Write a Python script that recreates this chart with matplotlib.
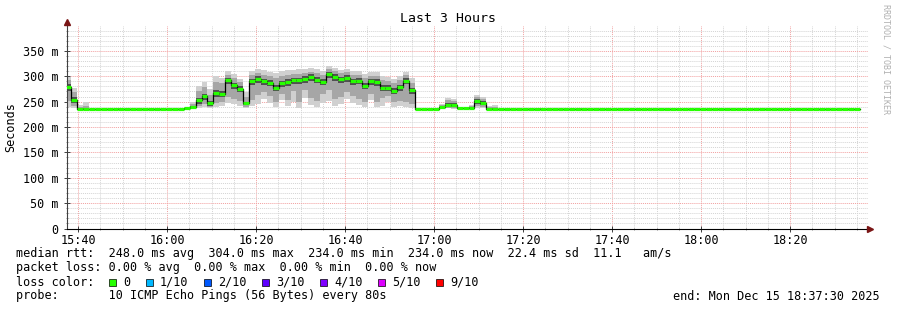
import matplotlib
matplotlib.use("Agg")
import matplotlib.pyplot as plt
import matplotlib.dates as mdates
from matplotlib.patches import Rectangle
from matplotlib.ticker import MultipleLocator, FixedLocator, FixedFormatter
import numpy as np
import pandas as pd

# probe steps of 80 s, median rtt in ms
start = pd.Timestamp("2025-12-15 15:37:04")
step_s = 80
median_ms = [
    279, 254, 236, 236, 236, 236, 236, 236, 236, 236,
    236, 236, 236, 236, 236, 236, 236, 236, 236, 236,
    237, 240, 253, 261, 247, 267, 266, 292, 282, 275,
    247, 290, 295, 290, 287, 277, 286, 289, 292, 292,
    295, 299, 293, 289, 304, 299, 294, 297, 290, 291,
    281, 290, 289, 277, 277, 271, 278, 291, 272, 236,
    236, 236, 236, 239, 244, 244, 237, 237, 238, 251,
    248, 236, 236, 236, 236, 236, 236, 236, 236, 236,
    236, 236, 236, 236, 236, 236, 236, 236, 236, 236,
    236, 236, 236, 236, 236, 236, 236, 236, 236, 236,
    236, 236, 236, 236, 236, 236, 236, 236, 236, 236,
    236, 236, 236, 236, 236, 236, 236, 236, 236, 236,
    236, 236, 236, 236, 236, 236, 236, 236, 236, 236,
    236, 236, 236, 236,
]

# smoke: ping spread per step (outer, middle, inner bands)
smoke_idx = [0, 1, 2, 3, 9, 20, 21, 22, 23, 24, 25, 26, 27, 28, 29, 30,
             31, 32, 33, 34, 35, 36, 37, 38, 39, 40, 41, 42, 43, 44, 45,
             46, 47, 48, 49, 50, 51, 52, 53, 54, 55, 56, 57, 58,
             62, 63, 64, 65, 66, 67, 68, 69, 70, 71, 72, 80, 87]
lo1 = [240, 238, 236, 236, 236, 236, 236, 238, 240, 237, 240, 242, 248, 246, 242, 238,
       242, 246, 256, 248, 239, 254, 241, 250, 238, 257, 243, 239, 248, 252, 241,
       245, 255, 247, 243, 240, 254, 239, 242, 250, 240, 242, 239, 238,
       236, 236, 237, 236, 236, 236, 236, 238, 237, 236, 236, 236, 236]
lo2 = [252, 242, 236, 236, 236, 236, 237, 241, 246, 240, 248, 249, 260, 256, 252, 240,
       254, 264, 268, 262, 249, 266, 254, 270, 250, 272, 258, 252, 266, 272, 256,
       260, 268, 262, 255, 250, 266, 250, 258, 262, 249, 251, 249, 245,
       236, 237, 238, 238, 236, 236, 237, 241, 240, 236, 236, 236, 236]
lo3 = [271, 248, 236, 236, 236, 236, 238, 246, 254, 242, 260, 259, 284, 275, 268, 243,
       283, 287, 282, 280, 270, 279, 281, 285, 284, 287, 291, 286, 282, 296, 291,
       287, 289, 283, 284, 274, 283, 281, 270, 270, 265, 271, 284, 265,
       236, 237, 240, 240, 236, 236, 237, 246, 243, 236, 236, 236, 236]
hi3 = [285, 259, 237, 237, 236, 237, 242, 258, 266, 251, 272, 271, 297, 287, 280, 250,
       295, 300, 295, 292, 282, 291, 294, 297, 297, 300, 304, 298, 294, 309, 304,
       299, 302, 295, 296, 286, 295, 294, 282, 282, 276, 283, 296, 277,
       236, 240, 247, 247, 237, 237, 239, 255, 252, 237, 237, 236, 236]
hi2 = [293, 268, 239, 241, 237, 238, 246, 270, 279, 263, 289, 286, 303, 297, 288, 259,
       302, 306, 303, 300, 296, 300, 303, 304, 305, 307, 309, 306, 303, 314, 310,
       306, 308, 303, 302, 296, 301, 300, 292, 290, 286, 292, 302, 286,
       237, 243, 253, 251, 238, 237, 242, 259, 255, 239, 240, 237, 237]
hi1 = [299, 276, 243, 250, 238, 240, 250, 281, 289, 274, 301, 296, 311, 305, 295, 268,
       311, 314, 312, 309, 307, 310, 313, 312, 314, 315, 317, 314, 311, 320, 317,
       313, 315, 311, 310, 305, 309, 308, 301, 299, 295, 301, 309, 296,
       238, 246, 258, 255, 239, 238, 244, 263, 259, 241, 244, 238, 237]

y_ticks = [0, 50, 100, 150, 200, 250, 300, 350]
y_labels = ["0", "50 m", "100 m", "150 m", "200 m", "250 m", "300 m", "350 m"]

loss_labels = ["0", "1/10", "2/10", "3/10", "4/10", "5/10", "9/10"]
loss_colors = ["#26ff00", "#00b8ff", "#0059ff", "#5e00ff", "#7e00ff", "#dd00ff", "#ff0000"]

legend_lines = [
    "median rtt:  248.0 ms avg  304.0 ms max  234.0 ms min  234.0 ms now  22.4 ms sd  11.1   am/s",
    "packet loss: 0.00 % avg  0.00 % max  0.00 % min  0.00 % now",
    "loss color:",
    "probe:       10 ICMP Echo Pings (56 Bytes) every 80s",
]

W, H = 897, 310
mono = "DejaVu Sans Mono"
plt.rcParams["font.family"] = mono

fig = plt.figure(figsize=(W / 100, H / 100), dpi=100)
fig.patch.set_facecolor("white")
ax = fig.add_axes([67 / W, 1 - 228.5 / H, (868 - 67) / W, (228.5 - 25.5) / H])

times = pd.date_range(start, periods=len(median_ms), freq=f"{step_s}s")
x = mdates.date2num(times.to_pydatetime())
w = step_s / 86400.0
med = np.array(median_ms, dtype=float)

xs = x[smoke_idx]
for lo, hi, col in [(lo1, hi1, "#d0d0d0"), (lo2, hi2, "#a6a6a6"), (lo3, hi3, "#505050")]:
    lo = np.array(lo, float)
    hi = np.array(hi, float)
    ax.bar(xs, hi - lo, bottom=lo, width=w, align="edge", color=col,
           linewidth=0, zorder=2)

ax.step(np.append(x, x[-1] + w), np.append(med, med[-1]), where="post",
        color="black", lw=0.9, zorder=3)
ax.hlines(med, x, x + w, colors="#26ff00", lw=2.3, zorder=4)

x0 = mdates.date2num(pd.Timestamp("2025-12-15 15:37:30").to_pydatetime())
x1 = mdates.date2num(pd.Timestamp("2025-12-15 18:37:30").to_pydatetime())
ax.set_xlim(x0, x1)
ax.set_ylim(0, 400)

ax.xaxis.set_major_locator(mdates.MinuteLocator(byminute=[0, 20, 40]))
ax.xaxis.set_minor_locator(mdates.MinuteLocator(byminute=range(0, 60, 5)))
ax.xaxis.set_major_formatter(mdates.DateFormatter("%H:%M"))
ax.yaxis.set_major_locator(FixedLocator(y_ticks))
ax.yaxis.set_major_formatter(FixedFormatter(y_labels))
ax.yaxis.set_minor_locator(MultipleLocator(10))

ax.set_axisbelow(True)
ax.grid(which="minor", color="#d4d4d4", ls=(0, (1, 1)), lw=0.7)
ax.grid(which="major", color="#f2a0a0", ls=(0, (1, 1)), lw=0.7)
ax.tick_params(which="major", direction="inout", length=4, width=0.7,
               color="#404040", labelsize=8.5, pad=2)
ax.tick_params(which="minor", direction="inout", length=2, width=0.6, color="#808080")
ax.tick_params(axis="y", which="major", pad=4)

for s in ["top", "right"]:
    ax.spines[s].set_visible(False)
ax.spines["left"].set_color("#404040")
ax.spines["bottom"].set_color("#000000")
ax.spines["left"].set_linewidth(0.8)
ax.spines["bottom"].set_linewidth(0.8)

# axis arrows
ax.plot([0], [1.015], marker="^", ms=4.5, color="#7a1515", transform=ax.transAxes,
        clip_on=False, zorder=6)
ax.plot([1.002], [0], marker=">", ms=4.5, color="#7a1515", transform=ax.transAxes,
        clip_on=False, zorder=6)

fig.text(448 / W, 1 - 19 / H, "Last 3 Hours", ha="center", va="center", fontsize=9.5)
fig.text(11 / W, 1 - 127 / H, "Seconds", ha="center", va="center", rotation=90,
         fontsize=8.5)
fig.text(886 / W, 1 - 4 / H, "RRDTOOL / TOBI OETIKER", ha="center", va="top",
         rotation=270, fontsize=6, color="#b0b0b0")

rows = [254, 268, 282, 296]
for line, ry in zip(legend_lines, rows):
    fig.text(16 / W, 1 - ry / H, line, ha="left", va="center", fontsize=8.5)

box_x = [109, 146, 204, 262, 320, 378, 436]
for bx, lab, col in zip(box_x, loss_labels, loss_colors):
    fig.patches.append(Rectangle((bx / W, 1 - 285.5 / H), 7 / W, 7 / H,
                                 transform=fig.transFigure, facecolor=col,
                                 edgecolor="#000000", lw=0.5))
    fig.text((bx + 14) / W, 1 - 282 / H, lab, ha="left", va="center", fontsize=8.5)

fig.text(880 / W, 1 - 296 / H, "end: Mon Dec 15 18:37:30 2025", ha="right",
         va="center", fontsize=8.5)

fig.savefig("out.png", dpi=100)
